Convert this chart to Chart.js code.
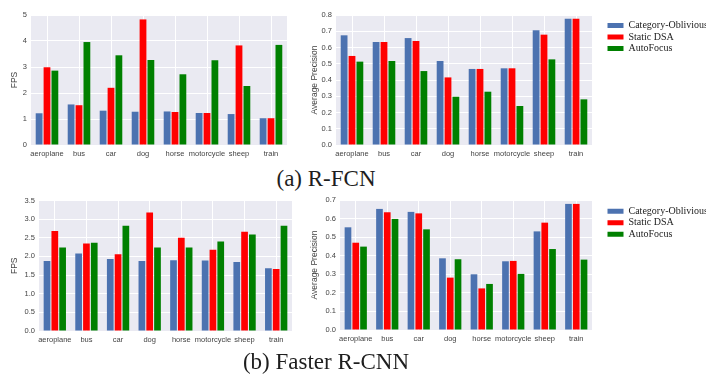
<!DOCTYPE html>
<html>
<head>
<meta charset="utf-8">
<script src="https://cdn.jsdelivr.net/npm/chart.js@4.4.0/dist/chart.umd.min.js"></script>
<style>
html, body { margin: 0; padding: 0; background: #fff; overflow: hidden; }
body { width: 706px; height: 376px; position: relative; }
canvas { position: absolute; }
.cap { position: absolute; font-family: "Liberation Serif", "Times New Roman", serif; font-size: 23px;
       color: #1e1e1e; white-space: nowrap; transform: translate(-50%, -50%); }
</style>
</head>
<body>
<canvas id="fpsRfcn" width="296" height="166" style="left:0;top:0"></canvas>
<canvas id="apRfcn" width="416" height="166" style="left:290px;top:0"></canvas>
<div class="cap" style="left:326px;top:179px">(a) R-FCN</div>
<canvas id="fpsFaster" width="298" height="166" style="left:0;top:186px"></canvas>
<canvas id="apFaster" width="414" height="166" style="left:292px;top:186px"></canvas>
<div class="cap" style="left:326px;top:362px">(b) Faster R-CNN</div>
<script>
const categories = ['aeroplane', 'bus', 'car', 'dog', 'horse', 'motorcycle', 'sheep', 'train'];
const seriesNames = ['Category-Oblivious', 'Static DSA', 'AutoFocus'];
const seriesColors = ['#4C72B0', '#FF0000', '#008000'];

// (a) R-FCN
const fpsRfcnOblivious = [1.22, 1.56, 1.32, 1.28, 1.29, 1.23, 1.19, 1.03];
const fpsRfcnStatic    = [2.99, 1.53, 2.20, 4.83, 1.27, 1.23, 3.83, 1.03];
const fpsRfcnAuto      = [2.86, 3.96, 3.45, 3.27, 2.72, 3.26, 2.27, 3.85];
const apRfcnOblivious  = [0.675, 0.634, 0.658, 0.517, 0.468, 0.472, 0.706, 0.777];
const apRfcnStatic     = [0.548, 0.634, 0.640, 0.416, 0.468, 0.472, 0.679, 0.777];
const apRfcnAuto       = [0.513, 0.517, 0.455, 0.297, 0.328, 0.240, 0.527, 0.281];

// (b) Faster R-CNN
const fpsFasterOblivious = [1.88, 2.08, 1.93, 1.88, 1.90, 1.89, 1.85, 1.68];
const fpsFasterStatic    = [2.68, 2.35, 2.06, 3.18, 2.50, 2.18, 2.66, 1.66];
const fpsFasterAuto      = [2.24, 2.37, 2.82, 2.24, 2.24, 2.40, 2.59, 2.82];
const apFasterOblivious  = [0.553, 0.652, 0.636, 0.386, 0.300, 0.370, 0.531, 0.679];
const apFasterStatic     = [0.470, 0.634, 0.628, 0.282, 0.224, 0.372, 0.578, 0.679];
const apFasterAuto       = [0.449, 0.598, 0.542, 0.381, 0.248, 0.302, 0.436, 0.379];

const fpsRfcnTicks = ['0', '1', '2', '3', '4', '5'];
const apRfcnTicks = ['0.0', '0.1', '0.2', '0.3', '0.4', '0.5', '0.6', '0.7', '0.8'];
const fpsFasterTicks = ['0.0', '0.5', '1.0', '1.5', '2.0', '2.5', '3.0', '3.5'];
const apFasterTicks = ['0.0', '0.1', '0.2', '0.3', '0.4', '0.5', '0.6', '0.7'];

const sans = '"Liberation Sans", Arial, sans-serif';
const serif = '"Liberation Serif", "Times New Roman", serif';

function makeChart(id, s) {
    const plugins = [];
    if (s.legend) {
        plugins.push({
            id: 'placeLegend',
            afterInit(chart) {
                const lg = chart.legend;
                const fit = lg.fit;
                lg.fit = function () { fit.call(this); this.width = s.w - (s.plotR - s.left); };
            },
            afterLayout(chart) {
                const lg = chart.legend;
                const h = lg.bottom - lg.top;
                lg.left = s.legend.x - s.left;
                lg.right = lg.left + 110;
                lg.top = s.legend.y - s.top;
                lg.bottom = lg.top + h;
            }
        });
    }
    return new Chart(document.getElementById(id), {
        type: 'bar',
        data: {
            labels: categories,
            datasets: seriesNames.map((name, i) => ({
                label: name,
                data: s.values[i],
                backgroundColor: seriesColors[i],
                borderWidth: 0,
                categoryPercentage: 0.74,
                barPercentage: 0.86
            }))
        },
        options: {
            responsive: false,
            animation: false,
            devicePixelRatio: 1,
            layout: { padding: { left: 0, bottom: 0, top: s.plotT - s.top,
                                 right: s.legend ? 0 : s.left + s.w - s.plotR } },
            plugins: {
                tooltip: { enabled: false },
                legend: {
                    display: !!s.legend,
                    position: 'right',
                    align: 'start',
                    labels: { boxWidth: 16, boxHeight: 5, padding: 1.5, color: '#222',
                              font: { family: serif, size: 10 } }
                }
            },
            scales: {
                x: {
                    grid: { color: '#fff', offset: false, drawTicks: false },
                    border: { display: false },
                    ticks: { font: { family: sans, size: 7.5 }, color: '#444', padding: 4,
                             maxRotation: 0, minRotation: 0, autoSkip: false },
                    afterFit: sc => { sc.height = s.top + s.h - s.plotB; }
                },
                y: {
                    min: +s.ticks[0],
                    max: +s.ticks[s.ticks.length - 1],
                    grid: { color: '#fff', drawTicks: false },
                    border: { display: false },
                    ticks: { font: { family: sans, size: 7.5 }, color: '#444', padding: 4,
                             callback: (v, i) => s.ticks[i] },
                    afterBuildTicks: sc => { sc.ticks = s.ticks.map(t => ({ value: +t })); },
                    afterFit: sc => { sc.width = s.plotL - s.left; },
                    title: { display: true, text: s.yTitle, color: '#444',
                             font: { family: sans, size: 8.5 }, padding: { top: s.titlePad } }
                }
            }
        },
        plugins: plugins
    });
}

// Chart area backgrounds (seaborn style)
Chart.register({
    id: 'plotBg',
    beforeDraw(chart) {
        const a = chart.chartArea, ctx = chart.ctx;
        ctx.save();
        ctx.fillStyle = '#EAEAF2';
        ctx.fillRect(a.left, a.top, a.right - a.left, a.bottom - a.top);
        ctx.restore();
    }
});

makeChart('fpsRfcn', {
    left: 0, top: 0, w: 296, h: 166, plotL: 31, plotR: 287, plotT: 15, plotB: 145,
    values: [fpsRfcnOblivious, fpsRfcnStatic, fpsRfcnAuto], ticks: fpsRfcnTicks,
    yTitle: 'FPS', titlePad: 10
});
makeChart('apRfcn', {
    left: 290, top: 0, w: 416, h: 166, plotL: 336, plotR: 592, plotT: 15, plotB: 145,
    values: [apRfcnOblivious, apRfcnStatic, apRfcnAuto], ticks: apRfcnTicks,
    yTitle: 'Average Precision', titlePad: 20, legend: { x: 606, y: 19 }
});
makeChart('fpsFaster', {
    left: 0, top: 186, w: 298, h: 166, plotL: 39, plotR: 292, plotT: 200.5, plotB: 331,
    values: [fpsFasterOblivious, fpsFasterStatic, fpsFasterAuto], ticks: fpsFasterTicks,
    yTitle: 'FPS', titlePad: 10
});
makeChart('apFaster', {
    left: 292, top: 186, w: 414, h: 166, plotL: 340, plotR: 592, plotT: 200, plotB: 330,
    values: [apFasterOblivious, apFasterStatic, apFasterAuto], ticks: apFasterTicks,
    yTitle: 'Average Precision', titlePad: 18, legend: { x: 606, y: 204.8 }
});
</script>
</body>
</html>
